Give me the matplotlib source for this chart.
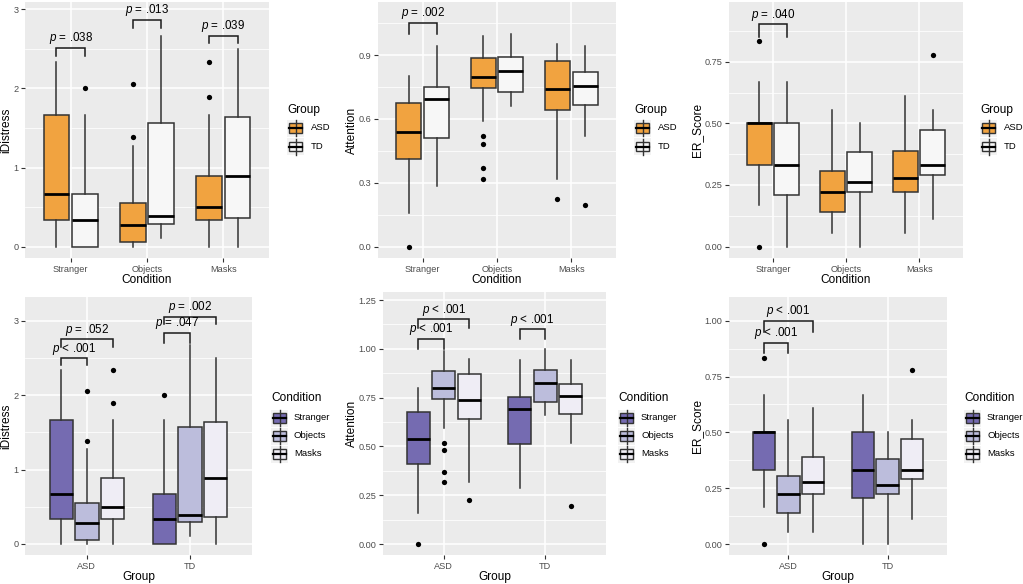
import matplotlib
matplotlib.use('Agg')
import matplotlib.pyplot as plt
from matplotlib.patches import Rectangle
from matplotlib.lines import Line2D

plt.rcParams['font.family'] = ['Liberation Sans', 'DejaVu Sans']
plt.rcParams['mathtext.fontset'] = 'custom'
plt.rcParams['mathtext.it'] = 'Liberation Sans:italic'
plt.rcParams['mathtext.rm'] = 'Liberation Sans'

# ---------------- data ----------------
conditions = ['Stranger', 'Objects', 'Masks']
groups = ['ASD', 'TD']

# five-number summaries [whisker low, Q1, median, Q3, whisker high], one per condition
idistress_asd = [[0.0, 0.333, 0.667, 1.667, 2.333],
                 [0.0, 0.056, 0.278, 0.556, 1.278],
                 [0.0, 0.333, 0.500, 0.889, 1.667]]
idistress_td = [[0.0, 0.0, 0.333, 0.667, 1.667],
                [0.111, 0.292, 0.389, 1.569, 2.667],
                [0.0, 0.361, 0.889, 1.639, 2.500]]
idistress_asd_out = [[], [1.389, 2.056], [1.889, 2.333]]
idistress_td_out = [[2.0], [], []]

attention_asd = [[0.157, 0.410, 0.540, 0.676, 0.801],
                 [0.592, 0.743, 0.798, 0.884, 0.989],
                 [0.318, 0.642, 0.739, 0.873, 0.950]]
attention_td = [[0.285, 0.512, 0.693, 0.751, 0.942],
                [0.660, 0.728, 0.826, 0.891, 1.000],
                [0.520, 0.665, 0.756, 0.819, 0.944]]
attention_asd_out = [[0.0], [0.316, 0.368, 0.482, 0.520], [0.225]]
attention_td_out = [[], [], [0.197]]

er_asd = [[0.167, 0.333, 0.500, 0.500, 0.667],
          [0.056, 0.139, 0.222, 0.306, 0.556],
          [0.056, 0.222, 0.278, 0.389, 0.611]]
er_td = [[0.0, 0.208, 0.333, 0.500, 0.667],
         [0.0, 0.222, 0.264, 0.382, 0.500],
         [0.111, 0.292, 0.333, 0.472, 0.556]]
er_asd_out = [[0.0, 0.833], [], []]
er_td_out = [[], [], [0.778]]

# significance brackets, top row: (condition, bracket y, tip y, label)
idistress_group_tests = [('Stranger', 2.516, 2.41, '.038'),
                         ('Objects', 2.865, 2.76, '.013'),
                         ('Masks', 2.663, 2.57, '.039')]
attention_group_tests = [('Stranger', 1.052, 1.0, '.002')]
er_group_tests = [('Stranger', 0.901, 0.852, '.040')]

# bottom row: (group, condition a, condition b, bracket y, tip y, label)
idistress_cond_tests = [('ASD', 'Stranger', 'Objects', 2.494, 2.405, '< .001'),
                        ('ASD', 'Stranger', 'Masks', 2.750, 2.651, '= .052'),
                        ('TD', 'Stranger', 'Objects', 2.839, 2.700, '= .047'),
                        ('TD', 'Stranger', 'Masks', 3.054, 2.956, '= .002')]
attention_cond_tests = [('ASD', 'Stranger', 'Objects', 1.050, 0.999, '< .001'),
                        ('ASD', 'Stranger', 'Masks', 1.151, 1.105, '< .001'),
                        ('TD', 'Stranger', 'Objects', 1.100, 1.050, '< .001')]
er_cond_tests = [('ASD', 'Stranger', 'Objects', 0.901, 0.854, '< .001'),
                 ('ASD', 'Stranger', 'Masks', 1.000, 0.951, '< .001')]

group_colors = ['#F1A340', '#F7F7F7']
cond_colors = ['#756BB1', '#BCBDDC', '#EFEDF5']

W, H = 1023, 584
fig = plt.figure(figsize=(W / 100, H / 100), dpi=100)
fig.patch.set_facecolor('white')

EDGE = '#333333'


def px_axes(l, t, r, b):
    return fig.add_axes([l / W, 1 - b / H, (r - l) / W, (b - t) / H])


def style(ax, xlabels, ylim, yticks, yfmt, minor):
    ax.set_facecolor('#EBEBEB')
    for s in ax.spines.values():
        s.set_visible(False)
    ax.set_xlim(0.4, len(xlabels) + 0.6)
    ax.set_ylim(*ylim)
    ax.set_xticks(range(1, len(xlabels) + 1))
    ax.set_xticklabels(xlabels)
    ax.set_yticks(yticks)
    ax.set_yticklabels([yfmt.format(v) for v in yticks])
    ax.set_yticks(minor, minor=True)
    ax.tick_params(axis='y', which='minor', length=0)
    ax.tick_params(which='major', length=3.2, width=0.8, color=EDGE,
                   labelcolor='#4D4D4D', labelsize=6.6, pad=1.5)
    ax.grid(which='major', color='white', linewidth=1.1)
    ax.grid(which='minor', axis='y', color='white', linewidth=0.55)
    ax.set_axisbelow(True)


def draw_box(ax, pos, width, s, out, color):
    d = dict(whislo=s[0], q1=s[1], med=s[2], q3=s[3], whishi=s[4], fliers=out)
    ax.bxp([d], positions=[pos], widths=width, patch_artist=True,
           showcaps=False, manage_ticks=False,
           boxprops=dict(facecolor=color, edgecolor=EDGE, linewidth=1.1),
           whiskerprops=dict(color=EDGE, linewidth=1.1),
           medianprops=dict(color='black', linewidth=2.0, solid_capstyle='butt'),
           flierprops=dict(marker='o', markerfacecolor='black',
                           markeredgecolor='black', markersize=3.8,
                           markeredgewidth=0))


def bracket(ax, x1, x2, y, tip, label):
    ax.plot([x1, x1, x2, x2], [tip, y, y, tip], color='#1A1A1A', lw=1.1,
            solid_joinstyle='miter', clip_on=False)
    ax.annotate(r'$p$ ' + label, xy=((x1 + x2) / 2, y), xytext=(0, 1.2),
                textcoords='offset points', ha='center', va='bottom',
                fontsize=8.4, color='black', annotation_clip=False)


measures = [
    ('iDistress', idistress_asd, idistress_td, idistress_asd_out, idistress_td_out,
     idistress_group_tests, idistress_cond_tests),
    ('Attention', attention_asd, attention_td, attention_asd_out, attention_td_out,
     attention_group_tests, attention_cond_tests),
    ('ER_Score', er_asd, er_td, er_asd_out, er_td_out,
     er_group_tests, er_cond_tests),
]

top_boxes = [(25, 2, 269, 258), (378, 2, 616, 258), (729, 2, 963, 258)]
bot_boxes = [(25, 297, 252, 555), (383, 292, 606, 555), (729, 297, 947, 555)]
top_ylims = [(-0.143, 3.093), (-0.053, 1.149), (-0.046, 0.992)]
bot_ylims = [(-0.148, 3.318), (-0.056, 1.291), (-0.049, 1.106)]
top_ticks = [([0, 1, 2, 3], '{:.0f}', [0.5, 1.5, 2.5]),
             ([0, 0.3, 0.6, 0.9], '{:.1f}', [0.15, 0.45, 0.75, 1.05]),
             ([0, 0.25, 0.5, 0.75], '{:.2f}', [0.125, 0.375, 0.625, 0.875])]
bot_ticks = [([0, 1, 2, 3], '{:.0f}', [0.5, 1.5, 2.5]),
             ([0, 0.25, 0.5, 0.75, 1.0, 1.25], '{:.2f}', [0.125, 0.375, 0.625, 0.875, 1.125]),
             ([0, 0.25, 0.5, 0.75, 1.0], '{:.2f}', [0.125, 0.375, 0.625, 0.875])]
ylabel_x = [6, 352, 697]

group_off = [-0.1875, 0.1875]
group_w = 0.3375
cond_off = [-0.25, 0.0, 0.25]
cond_w = 0.225

for k, (name, asd, td, asd_out, td_out, gtests, ctests) in enumerate(measures):
    by_group = [asd, td]
    out_group = [asd_out, td_out]
    # ---- top: x = condition, fill = group
    l, t, r, b = top_boxes[k]
    ax = px_axes(l, t, r, b)
    yt, fmt, mn = top_ticks[k]
    style(ax, conditions, top_ylims[k], yt, fmt, mn)
    for i in range(len(conditions)):
        for j in range(len(groups)):
            draw_box(ax, i + 1 + group_off[j], group_w, by_group[j][i],
                     out_group[j][i], group_colors[j])
    for cond, y, tip, lab in gtests:
        i = conditions.index(cond) + 1
        bracket(ax, i + group_off[0], i + group_off[1], y, tip, '= ' + lab)
    fig.text(ylabel_x[k] / W, 1 - ((t + b) / 2) / H, name, rotation=90,
             ha='center', va='center', fontsize=8.6)
    fig.text(((l + r) / 2) / W, 1 - 280 / H, 'Condition', ha='center',
             va='center', fontsize=8.6)

    # ---- bottom: x = group, fill = condition
    l, t, r, b = bot_boxes[k]
    ax = px_axes(l, t, r, b)
    yt, fmt, mn = bot_ticks[k]
    style(ax, groups, bot_ylims[k], yt, fmt, mn)
    for j in range(len(groups)):
        for i in range(len(conditions)):
            draw_box(ax, j + 1 + cond_off[i], cond_w, by_group[j][i],
                     out_group[j][i], cond_colors[i])
    for grp, ca, cb, y, tip, lab in ctests:
        j = groups.index(grp) + 1
        bracket(ax, j + cond_off[conditions.index(ca)],
                j + cond_off[conditions.index(cb)], y, tip, lab)
    fig.text(ylabel_x[k] / W, 1 - ((t + b) / 2) / H, name, rotation=90,
             ha='center', va='center', fontsize=8.6)
    fig.text(((l + r) / 2) / W, 1 - 577 / H, 'Group', ha='center',
             va='center', fontsize=8.6)

# ---------------- legends ----------------
lax = fig.add_axes([0, 0, 1, 1], zorder=10)
lax.set_xlim(0, W)
lax.set_ylim(H, 0)
lax.axis('off')
lax.patch.set_alpha(0)


def key(x, yc, color):
    size = 17
    lax.add_patch(Rectangle((x, yc - size / 2), size, size, facecolor='#F2F2F2',
                            edgecolor='none'))
    cx = x + size / 2
    lax.add_line(Line2D([cx, cx], [yc - size / 2 + 0.5, yc + size / 2 - 0.5],
                        color=EDGE, lw=1.0))
    lax.add_patch(Rectangle((x + 1.8, yc - 4.6), size - 3.6, 9.2, facecolor=color,
                            edgecolor=EDGE, lw=1.0))
    lax.add_line(Line2D([x + 1.8, x + size - 1.8], [yc, yc], color='black', lw=1.6))


top_leg_x = [287, 634, 980]
for lx in top_leg_x:
    lax.text(lx, 110, 'Group', fontsize=8.6, ha='left', va='center')
    for j, g in enumerate(groups):
        yc = 128 + j * 18.5
        key(lx, yc, group_colors[j])
        lax.text(lx + 24, yc, g, fontsize=6.8, ha='left', va='center')

bot_leg_x = [271, 618, 964]
for lx in bot_leg_x:
    lax.text(lx, 398, 'Condition', fontsize=8.6, ha='left', va='center')
    for i, c in enumerate(conditions):
        yc = 418 + i * 18
        key(lx, yc, cond_colors[i])
        lax.text(lx + 23, yc, c, fontsize=6.8, ha='left', va='center')

fig.savefig('out.png', dpi=100)
